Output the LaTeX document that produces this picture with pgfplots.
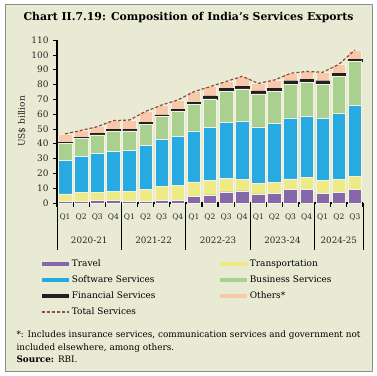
\documentclass[border=0pt]{standalone}
\usepackage{pgfplots}
\usepackage{pgfplotstable}
\pgfplotsset{compat=1.18}
\usepackage{fontspec}
\setmainfont{DejaVu Serif}
\definecolor{bg}{HTML}{E9EAD4}
\definecolor{framec}{HTML}{8C8C8C}
\definecolor{travel}{HTML}{8767AB}
\definecolor{transp}{HTML}{EEEA86}
\definecolor{soft}{HTML}{27AAE1}
\definecolor{bus}{HTML}{A9D08E}
\definecolor{fin}{HTML}{231F20}
\definecolor{oth}{HTML}{F8C8AA}
\definecolor{tot}{HTML}{8B4A3B}
\definecolor{gapc}{HTML}{F3F2E4}

\pgfplotstableread{
i travel transp soft bus fin oth total
0 1.3 4.8 22.9 11.2 0.8 5.6 46.6
1 1.3 5.7 24.7 11.9 0.7 4.7 49.0
2 1.6 5.8 25.9 12.6 1.1 4.5 51.5
3 1.8 5.8 27.0 13.8 1.3 5.9 55.6
4 1.1 6.5 27.7 13.3 1.1 6.3 56.0
5 1.3 7.9 29.9 14.2 1.2 7.3 61.8
6 2.0 9.0 32.0 15.3 1.1 6.7 66.1
7 2.0 9.9 32.9 16.8 1.6 6.3 69.5
8 4.3 9.9 34.5 18.1 1.5 6.8 75.1
9 5.4 9.6 36.1 19.2 2.0 6.2 78.5
10 7.5 9.1 37.6 21.1 1.9 4.8 82.0
11 8.1 7.9 38.9 22.1 1.7 6.8 85.5
12 6.1 7.2 38.1 22.2 2.0 5.1 80.7
13 6.7 7.4 39.4 22.0 1.8 5.7 83.0
14 9.1 7.1 41.2 22.8 2.3 5.0 87.5
15 9.4 7.9 41.4 22.9 1.7 5.5 88.8
16 6.7 8.7 41.8 23.0 2.3 5.7 88.2
17 7.1 8.9 44.2 25.4 1.9 6.1 93.6
18 9.4 8.4 47.8 30.0 1.4 6.2 103.2
}\data

\pgfplotsset{
  swatch/.style={legend image code/.code={\fill[##1,draw=none] (0bp,-2.3bp) rectangle (27bp,2.3bp);}},
  dashleg/.style={legend image code/.code={\draw[##1] (0bp,0bp) -- (27bp,0bp);}},
}
\tikzset{yrlab/.style={font=\fontsize{8.8}{10}\selectfont, color=black!85}}

\begin{document}
\begin{tikzpicture}
\useasboundingbox (0bp,0bp) rectangle (377bp,376bp);
\fill[white] (0bp,0bp) rectangle (377bp,376bp);
\filldraw[fill=bg, draw=framec, line width=0.8bp] (5.5bp,4.5bp) rectangle (372.5bp,371.5bp);
\node[font=\bfseries\fontsize{10.9}{12}\selectfont] at (188.5bp,358bp) {Chart II.7.19: Composition of India's Services Exports};

\begin{axis}[
  at={(57bp,173bp)}, anchor=south west, scale only axis,
  width=306bp, height=163bp,
  ybar stacked, bar width=13.5bp,
  xmin=-0.5, xmax=18.5, ymin=0, ymax=110,
  axis lines*=left,
  axis line style={line width=1.5bp, black},
  clip=false,
  ytick={0,10,...,110},
  tick align=outside,
  major tick length=4bp,
  ytick style={black, line width=0.5bp},
  xtick={0,...,18},
  xticklabels={Q1,Q2,Q3,Q4,Q1,Q2,Q3,Q4,Q1,Q2,Q3,Q4,Q1,Q2,Q3,Q4,Q1,Q2,Q3},
  minor xtick={-0.5,0.5,...,18.5},
  minor tick length=4bp,
  every major x tick/.append style={opacity=0},
  every minor x tick/.append style={black, line width=1.2bp},
  /pgf/number format/assume math mode=true,
  yticklabel style={font=\fontsize{9}{10}\selectfont, color=black!85, xshift=-1bp},
  xticklabel style={font=\fontsize{7.6}{9}\selectfont, color=black!85, yshift=-3bp},
  ylabel={US\$ billion},
  every axis y label/.style={at={(axis description cs:-0.114,0.5)}, rotate=90, anchor=center, font=\fontsize{9}{10}\selectfont, color=black!85},
  legend columns=2,
  legend cell align=left,
  legend style={at={(axis description cs:-0.0523,-0.346)}, anchor=north west,
    draw=none, fill=none, inner sep=0pt, row sep=7bp,
    font=\fontsize{9}{10}\selectfont,
    nodes={text width=146bp, inner xsep=2.5bp, inner ysep=0pt, text height=7bp, text depth=2bp}},
]
\addplot[fill=travel, draw=gapc, line width=0.6bp, swatch] table[x=i,y=travel]{\data};
\addlegendentry{Travel}
\addplot[fill=transp, draw=gapc, line width=0.6bp, swatch] table[x=i,y=transp]{\data};
\addlegendentry{Transportation}
\addplot[fill=soft, draw=gapc, line width=0.6bp, swatch] table[x=i,y=soft]{\data};
\addlegendentry{Software Services}
\addplot[fill=bus, draw=gapc, line width=0.6bp, swatch] table[x=i,y=bus]{\data};
\addlegendentry{Business Services}
\addplot[fill=fin, draw=fin, line width=0.4bp, swatch] table[x=i,y=fin]{\data};
\addlegendentry{Financial Services}
\addplot[fill=oth, draw=gapc, line width=0.6bp, swatch] table[x=i,y=oth]{\data};
\addlegendentry{Others*}
\addlegendimage{tot, line width=1.2bp, dash pattern=on 3bp off 2bp, dashleg}
\addlegendentry{Total Services}

\draw[black, line width=0.8bp] (axis cs:-0.5,0) -- ++(0bp,-47bp);
\draw[black, line width=0.8bp] (axis cs:3.5,0) -- ++(0bp,-47bp);
\draw[black, line width=0.8bp] (axis cs:7.5,0) -- ++(0bp,-47bp);
\draw[black, line width=0.8bp] (axis cs:11.5,0) -- ++(0bp,-47bp);
\draw[black, line width=0.8bp] (axis cs:15.5,0) -- ++(0bp,-47bp);
\draw[black, line width=0.8bp] (axis cs:18.5,0) -- ++(0bp,-47bp);
\node[yrlab] at ([yshift=-37bp]axis cs:1.5,0) {2020-21};
\node[yrlab] at ([yshift=-37bp]axis cs:5.5,0) {2021-22};
\node[yrlab] at ([yshift=-37bp]axis cs:9.5,0) {2022-23};
\node[yrlab] at ([yshift=-37bp]axis cs:13.5,0) {2023-24};
\node[yrlab] at ([yshift=-37bp]axis cs:17,0) {2024-25};
\end{axis}

\begin{axis}[
  at={(57bp,173bp)}, anchor=south west, scale only axis,
  width=306bp, height=163bp,
  xmin=-0.5, xmax=18.5, ymin=0, ymax=110,
  hide axis, clip=false,
]
\addplot[tot, line width=1.2bp, dash pattern=on 3bp off 2bp] table[x=i,y=total]{\data};
\end{axis}

\node[anchor=base west, font=\fontsize{8.9}{10}\selectfont] at (13bp,39bp) {*: Includes insurance services, communication services and government not};
\node[anchor=base west, font=\fontsize{8.9}{10}\selectfont] at (13bp,25.5bp) {included elsewhere, among others.};
\node[anchor=base west, font=\fontsize{8.9}{10}\selectfont] at (13bp,14bp) {\textbf{Source:} RBI.};
\end{tikzpicture}
\end{document}
